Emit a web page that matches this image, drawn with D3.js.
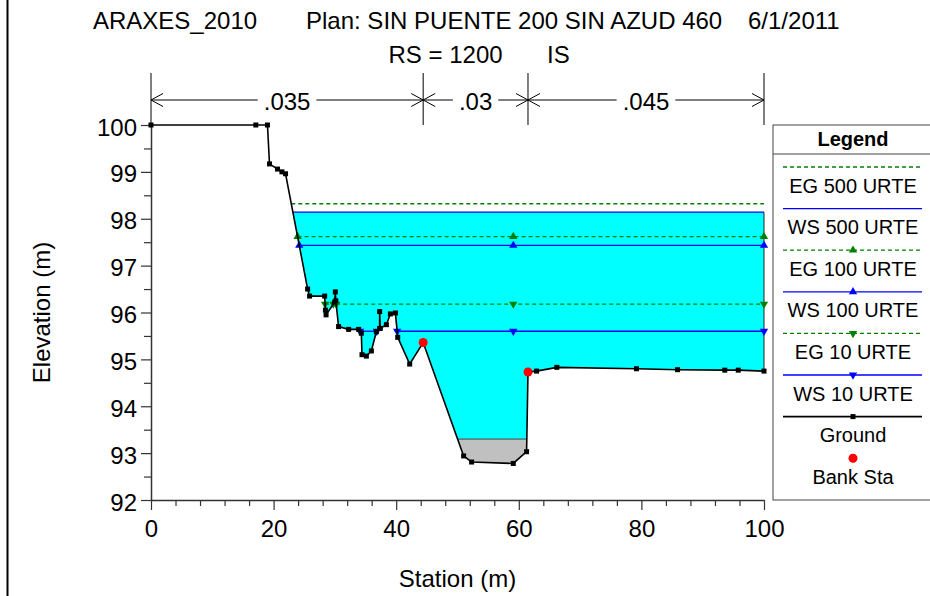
<!DOCTYPE html>
<html>
<head>
<meta charset="utf-8">
<script src="https://cdn.jsdelivr.net/npm/d3@7/dist/d3.min.js"></script>
<style>
  html, body { margin: 0; padding: 0; background: #fff; }
  svg { display: block; font-family: "Liberation Sans", Arial, sans-serif; }
</style>
</head>
<body>
<svg id="chart" width="930" height="596"></svg>
<script>
// ---------- data ----------
const groundSta  = [0, 17.1, 19.0, 19.33, 20.64, 21.36, 21.95, 25.55, 25.87, 28.33, 28.45, 28.56, 29.95, 30.07, 30.15, 30.6,
                    32.24, 33.87, 34.31, 34.42, 35.13, 35.95, 36.76, 37.3, 37.3, 37.4, 38.4, 39.05, 39.87, 40.25, 42.2,
                    44.4, 51.0, 52.3, 59.1, 61.27, 61.5, 62.9, 66.2, 79.2, 85.9, 93.6, 95.8, 100];
const groundElev = [100, 100, 100, 99.17, 99.06, 99.00, 98.96, 96.50, 96.35, 96.35, 96.05, 95.95, 96.22, 96.44, 96.25, 95.70,
                    95.64, 95.64, 95.56, 95.10, 95.07, 95.18, 95.59, 95.66, 96.02, 95.66, 95.74, 95.97, 95.99, 95.47, 94.90,
                    95.36, 92.94, 92.81, 92.78, 93.03, 94.73, 94.75, 94.83, 94.80, 94.78, 94.77, 94.77, 94.75];
const bankSta = [44.4, 61.5];
const bankElev = [95.36, 94.73];

const profileNames = ["EG 500 URTE", "WS 500 URTE", "EG 100 URTE", "WS 100 URTE", "EG 10 URTE", "WS 10 URTE"];
const profileElev  = [98.32, 98.14, 97.62, 97.43, 96.18, 95.60];
const profileType  = ["EG", "WS", "EG", "WS", "EG", "WS"];
const profileMarker = ["none", "none", "up", "up", "down", "down"];
const extraMarkerSta = [59.1];

const sedimentElev = 93.30;

const nStations = [0, 44.4, 61.5, 100];
const nValues = [".035", ".03", ".045"];

const xMajorTicks = [0, 20, 40, 60, 80, 100];
const yMajorTicks = [92, 93, 94, 95, 96, 97, 98, 99, 100];

const titleParts = ["ARAXES_2010", "Plan: SIN PUENTE 200 SIN AZUD 460", "6/1/2011"];
const subtitleParts = ["RS = 1200", "IS"];

// ---------- setup ----------
const svg = d3.select("#chart");
const W = 930, H = 596;
const plot = { left: 151, right: 764, top: 125, bottom: 500 };
const x = d3.scaleLinear().domain([0, 100]).range([plot.left, plot.right]);
const y = d3.scaleLinear().domain([92, 100]).range([plot.bottom, plot.top]);

const GREEN = "#008000", BLUE = "#0000FF", AXIS = "#333";

svg.append("rect").attr("width", W).attr("height", H).attr("fill", "#fff");
// left frame line
svg.append("line").attr("x1", 7.5).attr("x2", 7.5).attr("y1", 0).attr("y2", H)
  .attr("stroke", "#000").attr("stroke-width", 2);

// ---------- titles ----------
const titleX = [93, 306, 748];
svg.selectAll("text.title").data(titleParts).enter().append("text")
  .attr("class", "title").attr("x", (d, i) => titleX[i]).attr("y", 28.5)
  .attr("font-size", 24).attr("fill", "#000").text(d => d);
const subX = [388.5, 547];
svg.selectAll("text.sub").data(subtitleParts).enter().append("text")
  .attr("class", "sub").attr("x", (d, i) => subX[i]).attr("y", 62.7)
  .attr("font-size", 24).attr("fill", "#000").text(d => d);

// ---------- wet segment helper ----------
const G = groundSta.map((s, i) => ({ s, e: groundElev[i] }));
function wetSegments(level) {
  const out = [];
  let cur = null;
  if (G[0].e < level) cur = { a: G[0].s, pts: [G[0]] };
  for (let i = 0; i < G.length - 1; i++) {
    const p = G[i], q = G[i + 1];
    const pin = p.e < level, qin = q.e < level;
    if (!pin && qin) {
      const s = p.s + (q.s - p.s) * (level - p.e) / (q.e - p.e);
      cur = { a: s, pts: [{ s, e: level }] };
    }
    if (pin && !qin) {
      const s = p.s + (q.s - p.s) * (level - p.e) / (q.e - p.e);
      cur.pts.push({ s, e: level });
      cur.b = s;
      out.push(cur);
      cur = null;
    }
    if (qin) cur.pts.push(q);
  }
  if (cur) { cur.b = G[G.length - 1].s; out.push(cur); }
  return out;
}

const lineGen = d3.line().x(d => x(d.s)).y(d => y(d.e));

// ---------- water fill ----------
const maxWS = d3.max(profileElev.filter((d, i) => profileType[i] === "WS"));
wetSegments(maxWS).forEach(seg => {
  const poly = seg.pts.concat([{ s: seg.b, e: maxWS }, { s: seg.a, e: maxWS }]);
  svg.append("path").attr("d", lineGen(poly) + "Z").attr("fill", "#00FFFF").attr("stroke", "none");
  // vertical edge at end of section
  const last = seg.pts[seg.pts.length - 1];
  if (last.e < maxWS) {
    svg.append("line").attr("x1", x(seg.b)).attr("x2", x(seg.b))
      .attr("y1", y(maxWS)).attr("y2", y(last.e)).attr("stroke", "#222").attr("stroke-width", 1);
  }
});

// ---------- sediment ----------
wetSegments(sedimentElev).forEach(seg => {
  const poly = seg.pts.concat([{ s: seg.b, e: sedimentElev }, { s: seg.a, e: sedimentElev }]);
  svg.append("path").attr("d", lineGen(poly) + "Z").attr("fill", "#C0C0C0").attr("stroke", "none");
  svg.append("line").attr("x1", x(seg.a)).attr("x2", x(seg.b))
    .attr("y1", y(sedimentElev)).attr("y2", y(sedimentElev)).attr("stroke", "#404040").attr("stroke-width", 1);
});

// ---------- axes ----------
const xMinor = d3.range(0, 101, 4).filter(v => v % 20 !== 0);
const yMinor = d3.range(92.5, 100, 1);

const gx = svg.append("g").attr("transform", `translate(0,${plot.bottom})`)
  .call(d3.axisBottom(x).tickValues(xMajorTicks).tickSize(10).tickSizeOuter(0).tickPadding(10).tickFormat(d3.format("d")));
svg.append("g").attr("transform", `translate(0,${plot.bottom})`)
  .call(d3.axisBottom(x).tickValues(xMinor).tickSize(6).tickSizeOuter(0).tickFormat(""))
  .call(g => g.select(".domain").remove());
const gy = svg.append("g").attr("transform", `translate(${plot.left},0)`)
  .call(d3.axisLeft(y).tickValues(yMajorTicks).tickSize(10).tickSizeOuter(0).tickPadding(4).tickFormat(d3.format("d")));
svg.append("g").attr("transform", `translate(${plot.left},0)`)
  .call(d3.axisLeft(y).tickValues(yMinor).tickSize(7).tickSizeOuter(0).tickFormat(""))
  .call(g => g.select(".domain").remove());

svg.selectAll(".domain").attr("stroke", AXIS).attr("stroke-width", 1.5);
svg.selectAll(".tick line").attr("stroke", AXIS).attr("stroke-width", 1.2);
svg.selectAll(".tick text").attr("font-size", 24).attr("fill", "#000")
  .attr("font-family", '"Liberation Sans", Arial, sans-serif');
gy.selectAll(".tick text").attr("dy", "0.42em");

svg.append("text").attr("x", (plot.left + plot.right) / 2).attr("y", 586.5)
  .attr("text-anchor", "middle").attr("font-size", 24).text("Station (m)");
svg.append("text").attr("transform", `translate(50,${(plot.top + plot.bottom) / 2}) rotate(-90)`)
  .attr("text-anchor", "middle").attr("font-size", 24).text("Elevation (m)");

// ---------- Manning's n bar ----------
const nTop = 73, nY = 100;
nStations.forEach(s => {
  svg.append("line").attr("x1", x(s)).attr("x2", x(s)).attr("y1", nTop).attr("y2", plot.top)
    .attr("stroke", "#000").attr("stroke-width", 1);
});
nValues.forEach((v, i) => {
  const x0 = x(nStations[i]), x1 = x(nStations[i + 1]);
  const cx = (x0 + x1) / 2;
  const t = svg.append("text").attr("x", cx).attr("y", 110).attr("text-anchor", "middle")
    .attr("font-size", 24).text(v);
  const tw = t.node().getComputedTextLength();
  const gap = 6;
  svg.append("line").attr("x1", x0).attr("x2", cx - tw / 2 - gap).attr("y1", nY).attr("y2", nY)
    .attr("stroke", "#000").attr("stroke-width", 1);
  svg.append("line").attr("x1", cx + tw / 2 + gap).attr("x2", x1).attr("y1", nY).attr("y2", nY)
    .attr("stroke", "#000").attr("stroke-width", 1);
  // open arrowheads
  svg.append("path").attr("d", `M${x0 + 12},${nY - 6.5} L${x0},${nY} L${x0 + 12},${nY + 6.5}`)
    .attr("fill", "none").attr("stroke", "#000").attr("stroke-width", 1);
  svg.append("path").attr("d", `M${x1 - 12},${nY - 6.5} L${x1},${nY} L${x1 - 12},${nY + 6.5}`)
    .attr("fill", "none").attr("stroke", "#000").attr("stroke-width", 1);
});

// ---------- water surface / energy lines ----------
const triUp = d3.symbol().type(d3.symbolTriangle).size(30);
function drawMarker(g, cx, cy, kind, color) {
  g.append("path").attr("d", triUp())
    .attr("transform", `translate(${cx},${cy})${kind === "down" ? " rotate(180)" : ""}`)
    .attr("fill", color);
}
profileElev.forEach((L, i) => {
  const color = profileType[i] === "EG" ? GREEN : BLUE;
  const segs = wetSegments(L);
  segs.forEach(seg => {
    svg.append("line").attr("x1", x(seg.a)).attr("x2", x(seg.b)).attr("y1", y(L)).attr("y2", y(L))
      .attr("stroke", color).attr("stroke-width", 1.3)
      .attr("stroke-dasharray", profileType[i] === "EG" ? "4,3" : null);
  });
  if (profileMarker[i] !== "none") {
    const g = svg.append("g");
    segs.forEach(seg => {
      drawMarker(g, x(seg.a), y(L), profileMarker[i], color);
      drawMarker(g, x(seg.b), y(L), profileMarker[i], color);
      extraMarkerSta.filter(s => s > seg.a && s < seg.b)
        .forEach(s => drawMarker(g, x(s), y(L), profileMarker[i], color));
    });
  }
});

// ---------- ground ----------
svg.append("path").attr("d", lineGen(G)).attr("fill", "none").attr("stroke", "#000").attr("stroke-width", 1.6);
svg.selectAll("rect.gpt").data(G).enter().append("rect").attr("class", "gpt")
  .attr("x", d => x(d.s) - 2.5).attr("y", d => y(d.e) - 2.5).attr("width", 5).attr("height", 5).attr("fill", "#000");
svg.selectAll("circle.bank").data(bankSta).enter().append("circle").attr("class", "bank")
  .attr("cx", d => x(d)).attr("cy", (d, i) => y(bankElev[i])).attr("r", 4.5).attr("fill", "#FF0000");

// ---------- legend ----------
const lg = svg.append("g");
const LX = 773, LT = 125, LB = 500, LR = 945, LC = 853;
lg.append("rect").attr("x", LX).attr("y", LT).attr("width", LR - LX).attr("height", LB - LT)
  .attr("fill", "#fff").attr("stroke", "#444").attr("stroke-width", 1);
lg.append("line").attr("x1", LX).attr("x2", LR).attr("y1", 154).attr("y2", 154).attr("stroke", "#444");
lg.append("text").attr("x", LC).attr("y", 146).attr("text-anchor", "middle")
  .attr("font-size", 20).attr("font-weight", "bold").text("Legend");
const legendNames = profileNames.concat(["Ground", "Bank Sta"]);
legendNames.forEach((name, i) => {
  const ly = 167 + i * 41.6;
  if (i < profileNames.length) {
    const color = profileType[i] === "EG" ? GREEN : BLUE;
    lg.append("line").attr("x1", 783).attr("x2", 922).attr("y1", ly).attr("y2", ly)
      .attr("stroke", color).attr("stroke-width", 1.3)
      .attr("stroke-dasharray", profileType[i] === "EG" ? "4,3" : null);
    if (profileMarker[i] !== "none") drawMarker(lg, LC, ly, profileMarker[i], color);
  } else if (name === "Ground") {
    lg.append("line").attr("x1", 783).attr("x2", 922).attr("y1", ly).attr("y2", ly)
      .attr("stroke", "#000").attr("stroke-width", 1.6);
    lg.append("rect").attr("x", LC - 2.5).attr("y", ly - 2.5).attr("width", 5).attr("height", 5).attr("fill", "#000");
  } else {
    lg.append("circle").attr("cx", LC).attr("cy", ly).attr("r", 4.5).attr("fill", "#FF0000");
  }
  lg.append("text").attr("x", LC).attr("y", ly + 25.5).attr("text-anchor", "middle")
    .attr("font-size", 20).text(name);
});
</script>
</body>
</html>
